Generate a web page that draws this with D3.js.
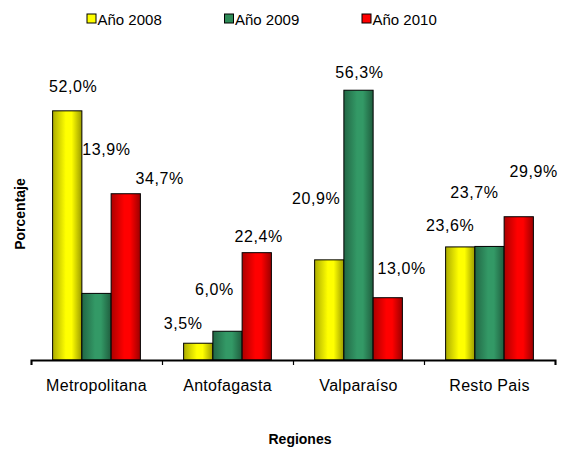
<!DOCTYPE html>
<html>
<head>
<meta charset="utf-8">
<script src="https://cdn.jsdelivr.net/npm/d3@7"></script>
<style>
  body { margin: 0; background: #fff; }
  text { font-family: Arial, "Liberation Sans", sans-serif; fill: #000; }
</style>
</head>
<body>
<div class="chart"></div>
<script>
var width = 561;
var height = 449;

// data
var regiones = ['Metropolitana', 'Antofagasta', 'Valparaíso', 'Resto Pais'];
var series = ['Año 2008', 'Año 2009', 'Año 2010'];
var valores2008 = [52.0, 3.5, 20.9, 23.6];
var valores2009 = [13.9, 6.0, 56.3, 23.7];
var valores2010 = [34.7, 22.4, 13.0, 29.9];
var colores = ['#FFFF00', '#339966', '#FF0000'];

// where the excel labels ended up, relative to the bar top centre [dx, dy]
var labelOffsets = [
  [[6, -19], [10, -138], [34, -10]],
  [[-15, -14], [-13, -36], [2, -11]],
  [[-13, -56], [1, -12], [14, -24]],
  [[-10, -16], [-15, -48], [15, -40]]
];

var valores = [valores2008, valores2009, valores2010];

var margin = {left: 31, right: 6, top: 72.5, bottom: 89};

var svg = d3.select('div.chart').append('svg')
    .attr('width', width)
    .attr('height', height);

var defs = svg.append('defs');
colores.forEach(function(c, i){
  var base = d3.rgb(c);
  var g = defs.append('linearGradient')
      .attr('id', 'grad' + i)
      .attr('x1', '0%').attr('x2', '100%').attr('y1', '0%').attr('y2', '0%');
  g.append('stop').attr('offset', '0%').attr('stop-color', base.darker(1.1));
  g.append('stop').attr('offset', '45%').attr('stop-color', base.formatHex());
  g.append('stop').attr('offset', '65%').attr('stop-color', base.formatHex());
  g.append('stop').attr('offset', '100%').attr('stop-color', base.darker(1.4));
});

// scales
var x_scale = d3.scaleBand()
    .domain(regiones)
    .range([margin.left, width - margin.right])
    .paddingInner(0.33)
    .paddingOuter(0.165);

var x_inner = d3.scaleBand()
    .domain(series)
    .range([0, x_scale.bandwidth()]);

var y_scale = d3.scaleLinear()
    .domain([0, 60])
    .range([height - margin.bottom, margin.top]);

// bars
var table = [];
regiones.forEach(function(r, i){
  series.forEach(function(s, j){
    table.push({region: r, serie: s, value: valores[j][i], ri: i, sj: j});
  });
});

svg.append('g')
    .selectAll('rect')
    .data(table)
    .enter()
    .append('rect')
    .attr('x', function(d){ return x_scale(d.region) + x_inner(d.serie) })
    .attr('y', function(d){ return y_scale(d.value) })
    .attr('width', x_inner.bandwidth())
    .attr('height', function(d){ return y_scale(0) - y_scale(d.value) })
    .attr('fill', function(d){ return 'url(#grad' + d.sj + ')' })
    .attr('stroke', '#000')
    .attr('stroke-width', 1);

// value labels
svg.append('g')
    .selectAll('text')
    .data(table)
    .enter()
    .append('text')
    .attr('x', function(d){ return x_scale(d.region) + x_inner(d.serie) + x_inner.bandwidth() / 2 + labelOffsets[d.ri][d.sj][0] })
    .attr('y', function(d){ return y_scale(d.value) + labelOffsets[d.ri][d.sj][1] })
    .style('text-anchor', 'middle')
    .style('font-size', '16px')
    .style('letter-spacing', '0.6px')
    .text(function(d){ return d.value.toFixed(1).replace('.', ',') + '%' });

// x axis: line + ticks between categories
var tick_scale = d3.scaleLinear()
    .domain([0, regiones.length])
    .range(x_scale.range());

svg.append('g')
    .attr('class', 'x-axis')
    .attr('transform', 'translate(0,' + y_scale(0) + ')')
    .call(d3.axisBottom(tick_scale).ticks(regiones.length).tickSize(5).tickSizeOuter(5).tickFormat(''))
    .call(function(g){
      g.select('.domain').attr('stroke-width', 2);
      g.selectAll('.tick line').attr('stroke-width', 1.2);
    });

svg.append('g')
    .attr('class', 'cat-labels')
    .attr('transform', 'translate(0,' + y_scale(0) + ')')
    .call(d3.axisBottom(x_scale).tickSize(0).tickPadding(20))
    .call(function(g){
      g.select('.domain').remove();
      g.selectAll('text')
        .style('font-size', '16px')
        .style('letter-spacing', '0.3px')
        .style('font-family', 'Arial, "Liberation Sans", sans-serif')
        .attr('fill', '#000');
    });

// axis titles
svg.append('text')
    .attr('x', 300)
    .attr('y', 444)
    .style('text-anchor', 'middle')
    .style('font-size', '14px')
    .style('font-weight', 'bold')
    .text('Regiones');

svg.append('text')
    .attr('transform', 'translate(25,214) rotate(-90)')
    .style('text-anchor', 'middle')
    .style('font-size', '14px')
    .style('font-weight', 'bold')
    .text('Porcentaje');

// legend
var legend = svg.append('g')
    .selectAll('g')
    .data(series)
    .enter()
    .append('g')
    .attr('transform', function(d, i){ return 'translate(' + (87 + i * 137.5) + ',14)' });

legend.append('rect')
    .attr('width', 9)
    .attr('height', 9)
    .attr('fill', function(d, i){ return i == 1 ? '#2E8B57' : colores[i] })
    .attr('stroke', '#000')
    .attr('stroke-width', 1);

legend.append('text')
    .attr('x', 10.5)
    .attr('y', 10.5)
    .style('font-size', '15px')
    .text(function(d){ return d });
</script>
</body>
</html>
